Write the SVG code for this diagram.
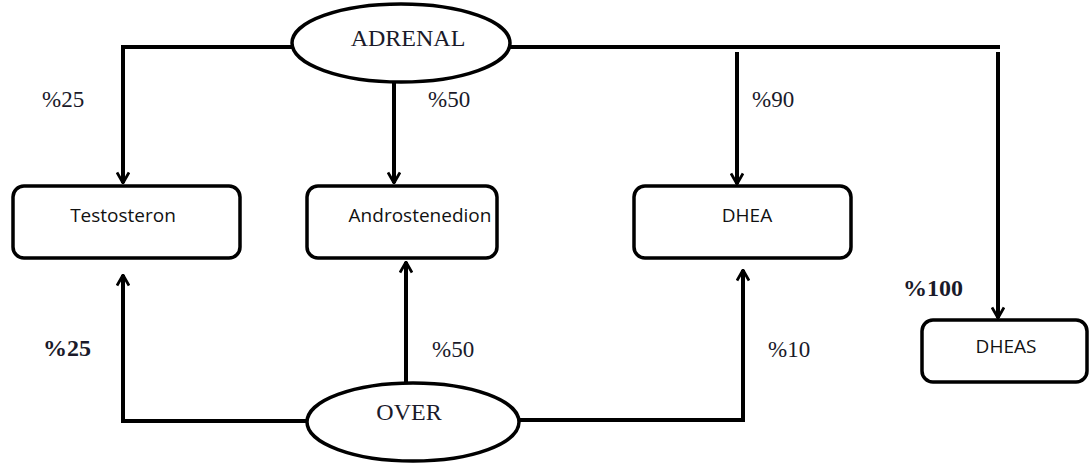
<svg xmlns="http://www.w3.org/2000/svg" width="1089" height="466" viewBox="0 0 1089 466">
<style>
.ln{fill:none;stroke:#000;stroke-width:4;stroke-linejoin:miter}
.box{fill:#fff;stroke:#000;stroke-width:3.5}
.ell{fill:#fff;stroke:#000;stroke-width:3.5}
.ser{font-family:"Liberation Serif",serif;fill:#1a1a2a}
.pct{font-size:23px}
.pctb{font-size:24px;font-weight:bold}
.san{font-family:"Open Sans","Liberation Sans",sans-serif;font-size:19px;fill:#111;text-anchor:middle}
</style>
<defs>
<marker id="ah" viewBox="0 0 13 14" refX="12" refY="7" markerWidth="13" markerHeight="14" markerUnits="userSpaceOnUse" orient="auto">
<path d="M1.5,1 L12,7 L1.5,13" fill="none" stroke="#000" stroke-width="2.8"/>
</marker>
</defs>
<g id="connectors">
<path class="ln" d="M292,47 H123 V183" marker-end="url(#ah)"/>
<path class="ln" d="M394,82 V183" marker-end="url(#ah)"/>
<path class="ln" d="M510,47 H1000"/>
<path class="ln" d="M737,52 V184" marker-end="url(#ah)"/>
<path class="ln" d="M998,52 V318" marker-end="url(#ah)"/>
<path class="ln" d="M307,421 H123 V275" marker-end="url(#ah)"/>
<path class="ln" d="M406,383 V262" marker-end="url(#ah)"/>
<path class="ln" d="M519,420 H743 V270" marker-end="url(#ah)"/>
</g>
<g id="adrenal">
<ellipse class="ell" cx="401" cy="43" rx="109" ry="39"/>
<text class="ser" x="408" y="46" font-size="24" text-anchor="middle">ADRENAL</text>
</g>
<g id="over">
<ellipse class="ell" cx="413" cy="422" rx="106" ry="39"/>
<text class="ser" x="409" y="420" font-size="24" text-anchor="middle">OVER</text>
</g>
<g id="testosteron">
<rect class="box" x="13" y="186" width="227" height="72" rx="11"/>
<text class="san" x="123" y="222">Testosteron</text>
</g>
<g id="androstenedion">
<rect class="box" x="307" y="186" width="190" height="72" rx="11"/>
<text class="san" x="420" y="222">Androstenedion</text>
</g>
<g id="dhea">
<rect class="box" x="634" y="186" width="217" height="72" rx="11"/>
<text class="san" x="747" y="222">DHEA</text>
</g>
<g id="dheas">
<rect class="box" x="922" y="320" width="165" height="62" rx="11"/>
<text class="san" x="1006" y="353">DHEAS</text>
</g>
<g id="labels">
<text class="ser pct" x="42" y="107">%25</text>
<text class="ser pct" x="428" y="107">%50</text>
<text class="ser pct" x="752" y="107">%90</text>
<text class="ser pctb" x="903" y="296">%100</text>
<text class="ser pctb" x="43" y="356">%25</text>
<text class="ser pct" x="432" y="357">%50</text>
<text class="ser pct" x="768" y="357">%10</text>
</g>
</svg>
